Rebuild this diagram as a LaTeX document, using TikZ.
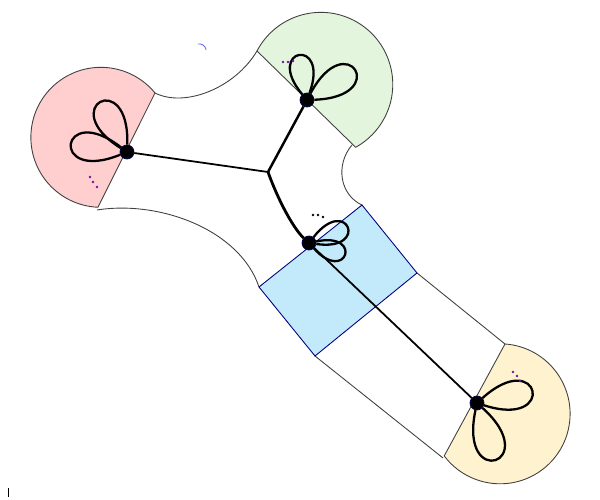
\documentclass[tikz,border=0pt]{standalone}
\usetikzlibrary{calc}
\definecolor{redpart}{RGB}{255,206,206}
\definecolor{greenpart}{RGB}{227,245,221}
\definecolor{bluepart}{RGB}{194,234,250}
\definecolor{yellowpart}{RGB}{255,242,206}
\definecolor{dotpurple}{RGB}{110,20,160}
\tikzset{
  part/.style={draw=black!75, line width=0.5pt},
  vertex/.style={circle, fill=black, draw=blue!30!black, inner sep=0pt, minimum size=0.28cm},
  edge/.style={line width=1pt},
  petal/.style={line width=1.3pt},
  dots/.style={fill=dotpurple}
}
\newcommand{\petal}[3]{\draw[petal] (#1) .. controls +(#2-30:#3) and +(#2+30:#3) .. (#1);}
\begin{document}
\begin{tikzpicture}[x=0.02cm, y=0.02cm]
  \useasboundingbox (0,0) rectangle (600,-500);
  % body between the parts
  \draw[part] (155,-93) .. controls (185,-108) and (235,-88) .. (257,-51);
  \draw[part] (352,-145) .. controls (335,-165) and (340,-195) .. (362,-205);
  \draw[part] (97,-210) .. controls (160,-200) and (240,-230) .. (259,-287);
  \draw[part] (417,-273) -- (505,-344);
  \draw[part] (315,-356) -- (443,-458);
  % coloured parts
  \filldraw[part, fill=redpart] (155,-93) arc[start angle=39.3, end angle=267.6, radius=1.4cm] -- cycle;
  \filldraw[part, fill=greenpart] (257,-51) arc[start angle=152.4, end angle=-61, radius=1.44cm] -- cycle;
  \filldraw[part, fill=yellowpart] (505,-344) arc[start angle=86, end angle=-143, radius=1.4cm] -- cycle;
  \filldraw[draw=blue!50!black, line width=0.5pt, fill=bluepart]
    (259,-287) -- (362,-205) -- (417,-273) -- (315,-356) -- cycle;
  % graph
  \node[vertex] (v1) at (127,-152) {};
  \node[vertex] (v2) at (307,-100) {};
  \node[vertex] (v3) at (309,-243) {};
  \node[vertex] (v4) at (477,-403) {};
  \coordinate (t) at (268,-172);
  \draw[edge] (v1) -- (t);
  \draw[edge, line width=1.4pt] (v2) -- (t);
  \draw[edge, line width=1.6pt] (t) .. controls (280,-205) and (295,-230) .. (v3);
  \draw[edge] (v3) -- (v4);
  % petals
  \petal{v1}{118}{85}
  \petal{v1}{172}{85}
  \petal{v2}{100}{68}
  \petal{v2}{32}{85}
  \petal{v3}{22}{62}
  \petal{v3}{-18}{56}
  \petal{v4}{12}{85}
  \petal{v4}{-72}{90}
  % dots
  \foreach \p in {(90,-177),(93,-182),(97,-187)} \fill[dots] \p circle (0.026cm);
  \foreach \p in {(283,-62),(288,-62),(293,-61)} \fill[dots] \p circle (0.026cm);
  \foreach \p in {(313,-215),(318,-215),(323,-217)} \fill \p circle (0.026cm);
  \foreach \p in {(513,-372),(517,-376),(520,-381)} \fill[dots] \p circle (0.026cm);
  % stray marks
  \draw[blue!60, line width=0.5pt] (198,-44) arc[start angle=100, end angle=10, radius=0.14cm];
  \draw[black, line width=0.4pt] (8,-488) -- (8,-497);
\end{tikzpicture}
\end{document}
